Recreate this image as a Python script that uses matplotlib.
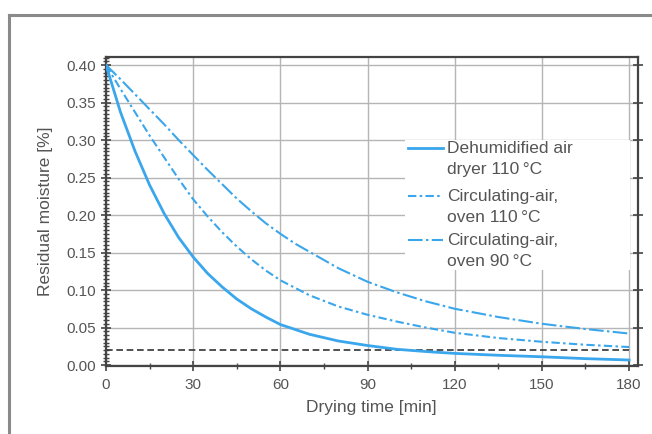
import matplotlib
matplotlib.use("Agg")
import matplotlib.pyplot as plt
from matplotlib.lines import Line2D
from matplotlib.patches import Rectangle
from matplotlib.ticker import MultipleLocator

plt.rcParams['font.family'] = ['Liberation Sans', 'DejaVu Sans']

# ---- data ----
t_dry = [0, 5, 10, 15, 20, 25, 30, 35, 40, 45, 50, 55, 60, 70, 80, 90, 100, 110, 120, 135, 150, 165, 180]
dry_110 = [0.400, 0.337, 0.285, 0.240, 0.202, 0.170, 0.144, 0.122, 0.104, 0.088, 0.075, 0.064, 0.054,
           0.041, 0.032, 0.026, 0.021, 0.018, 0.0155, 0.013, 0.011, 0.0085, 0.0067]

t_oven = [0, 5, 10, 15, 20, 25, 30, 35, 40, 45, 50, 55, 60, 70, 80, 90, 100, 110, 120, 135, 150, 165, 180]
oven_110 = [0.400, 0.368, 0.337, 0.306, 0.277, 0.248, 0.221, 0.198, 0.177, 0.158, 0.141, 0.126, 0.113,
            0.093, 0.078, 0.067, 0.058, 0.050, 0.043, 0.036, 0.031, 0.027, 0.024]

t_oven90 = [0, 5, 10, 15, 20, 25, 30, 35, 40, 45, 50, 55, 60, 65, 70, 75, 80, 90, 100, 110, 120, 135,
            150, 165, 180]
oven_90 = [0.400, 0.381, 0.361, 0.341, 0.321, 0.300, 0.280, 0.260, 0.241, 0.222, 0.205, 0.189, 0.175,
           0.162, 0.151, 0.140, 0.129, 0.111, 0.097, 0.085, 0.075, 0.064, 0.055, 0.048, 0.042]

threshold = 0.02
labels = [["Dehumidified air", "dryer 110\u2009°C"],
          ["Circulating-air,", "oven 110\u2009°C"],
          ["Circulating-air,", "oven 90\u2009°C"]]
x_ticks = [0, 30, 60, 90, 120, 150, 180]
y_ticks = [0.00, 0.05, 0.10, 0.15, 0.20, 0.25, 0.30, 0.35, 0.40]

blue = '#3aa6ec'
txt = '#555555'
styles = [dict(ls='-', lw=2.0),
          dict(ls=(0, (4, 1.6, 1.2, 1.6)), lw=1.5),
          dict(ls=(0, (7, 1.6, 1.2, 1.6)), lw=1.5)]

fig = plt.figure(figsize=(6.52, 4.34), dpi=100)
ax = fig.add_axes([106/652, 1-366/434, (637.5-106)/652, (366-57)/434])

series = [(t_dry, dry_110), (t_oven, oven_110), (t_oven90, oven_90)]
for (tx, ty), st in zip(series, styles):
    ax.plot(tx, ty, color=blue, zorder=3, solid_joinstyle='round', **st)

ax.plot([0, 180], [threshold, threshold], color='#333333', lw=1.2, ls=(0, (4, 2.2)), zorder=2.5)

ax.set_xlim(0, 182.9)
ax.set_ylim(-0.0013, 0.4107)
ax.set_xticks(x_ticks)
ax.set_yticks(y_ticks)
ax.set_yticklabels([f"{v:.2f}" for v in y_ticks])
ax.xaxis.set_minor_locator(MultipleLocator(15))
ax.yaxis.set_minor_locator(MultipleLocator(0.005))
ax.grid(True, which='major', color='#b5b5b5', lw=1.0)
ax.set_axisbelow(True)
ax.tick_params(axis='both', which='major', direction='inout', length=7, width=1.2,
               colors='#444444', labelcolor=txt, labelsize=11)
ax.tick_params(axis='both', which='minor', direction='inout', length=4, width=1.0, colors='#444444')
ax.tick_params(axis='y', which='major', right=True)
ax.tick_params(axis='x', which='major', pad=5)
for s in ax.spines.values():
    s.set_color('#444444')
    s.set_linewidth(1.6)

ax.set_xlabel("Drying time [min]", fontsize=12.5, color=txt, labelpad=6)
ax.set_ylabel("Residual moisture [%]", fontsize=12.5, color=txt, labelpad=10)

# legend (manual, handle at first text line)
ax.add_patch(Rectangle((0.5626, 0.311), 0.4224, 0.42, transform=ax.transAxes,
                       facecolor='white', edgecolor='none', zorder=1.2))
handle_y = [0.705, 0.550, 0.407]
line_gap = 0.068
for i, st in enumerate(styles):
    y = handle_y[i]
    ax.add_line(Line2D([0.568, 0.634], [y, y], transform=ax.transAxes, color=blue, zorder=4, **st))
    ax.text(0.642, y, labels[i][0], transform=ax.transAxes, va='center', ha='left',
            fontsize=12.5, color=txt, zorder=4)
    ax.text(0.642, y - line_gap, labels[i][1], transform=ax.transAxes, va='center', ha='left',
            fontsize=12.5, color=txt, zorder=4)

# outer frame
fig.add_artist(Line2D([9/652, 9/652], [0, 1-15/434], transform=fig.transFigure, color='#8a8a8a', lw=2.2))
fig.add_artist(Line2D([9/652, 1], [1-15/434, 1-15/434], transform=fig.transFigure, color='#8a8a8a', lw=2.2))

fig.savefig("out.png", dpi=100)
